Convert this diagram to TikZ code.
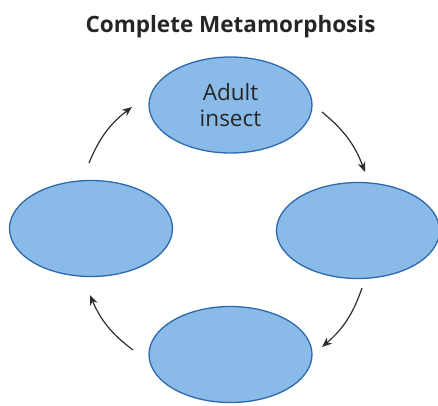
\documentclass[tikz,border=0pt]{standalone}
\usepackage{fontspec}
\setmainfont{Open Sans}
\usetikzlibrary{shapes.geometric,arrows.meta}
\definecolor{stagefill}{RGB}{138,187,232}
\definecolor{stageline}{RGB}{45,105,175}
\definecolor{arrowgray}{RGB}{45,45,45}
\tikzset{
  stage/.style={ellipse, draw=stageline, fill=stagefill, line width=1.3pt,
    minimum width=163pt, minimum height=96pt, inner sep=0pt,
    font=\fontsize{22.5}{27}\selectfont, align=center, text=black!85},
  cyc/.style={draw=arrowgray, line width=1.2pt, -{Stealth[length=10pt,width=8pt]}}
}
\begin{document}
\begin{tikzpicture}[x=1pt,y=-1pt]
\useasboundingbox (0,0) rectangle (438,405);
\node[font=\bfseries\fontsize{22.5}{27}\selectfont, text=black!85, anchor=base, inner sep=0pt] (title) at (230.5,32) {Complete Metamorphosis};
\node[stage] (adult) at (230.5,105) {Adult\\[-1pt]insect};
\node[stage] (right) at (358,230.5) {};
\node[stage] (bottom) at (230.5,354.5) {};
\node[stage] (left) at (91,228.5) {};
\coordinate (a1s) at (322,112);
\coordinate (a1e) at (365,172);
\coordinate (a2s) at (362,288);
\coordinate (a2e) at (322,347);
\coordinate (a3s) at (133,350);
\coordinate (a3e) at (90,295);
\coordinate (a4s) at (89,163);
\coordinate (a4e) at (132,107);
\draw[cyc] (a1s) to[bend left=15] (a1e);
\draw[cyc] (a2s) to[bend left=15] (a2e);
\draw[cyc] (a3s) to[bend left=15] (a3e);
\draw[cyc] (a4s) to[bend left=15] (a4e);
\end{tikzpicture}
\end{document}
